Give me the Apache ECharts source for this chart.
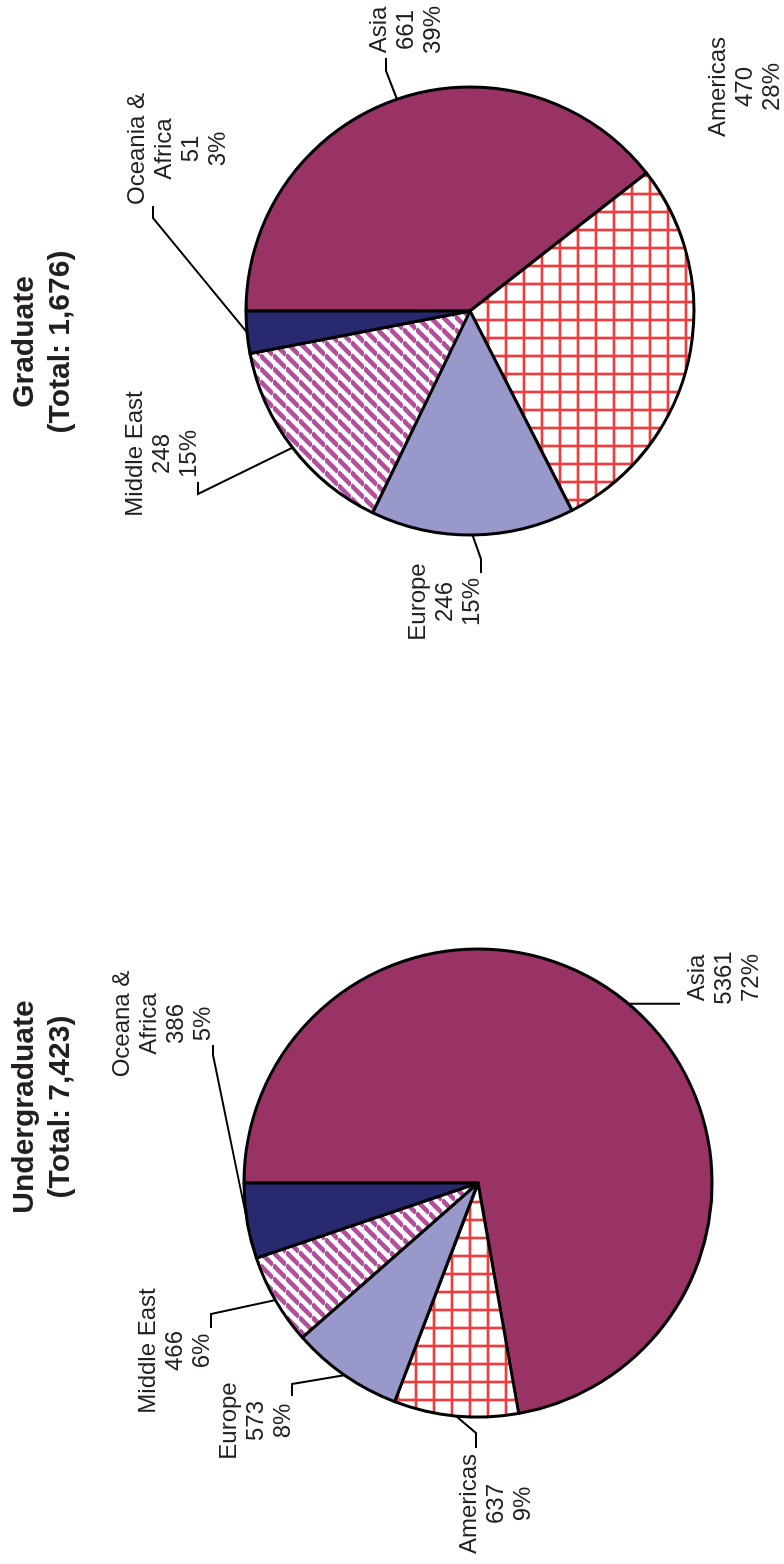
<!DOCTYPE html>
<html>
<head>
<meta charset="utf-8">
<script src="https://cdn.jsdelivr.net/npm/echarts@6/dist/echarts.min.js"></script>
<style>
  html, body { margin: 0; padding: 0; width: 784px; height: 1564px; overflow: hidden; background: #fff; }
  /* the chart is laid out landscape and turned a quarter to the left, like the scanned page */
  #chart { position: absolute; left: 0; top: 0; width: 1564px; height: 784px;
           transform-origin: 0 0; transform: translateY(1564px) rotate(-90deg); }
</style>
</head>
<body>
<div id="chart"></div>
<script>
  const underNames = ['Asia', 'Americas', 'Europe', 'Middle East', 'Oceana &\nAfrica']
  const underValues = [5361, 637, 573, 466, 386]
  const gradNames = ['Asia', 'Americas', 'Europe', 'Middle East', 'Oceania &\nAfrica']
  const gradValues = [661, 470, 246, 248, 51]
  const titles = ['Undergraduate\n(Total: 7,423)', 'Graduate\n(Total: 1,676)']

  const font = '"Liberation Sans", Arial, sans-serif'

  // hatch fills, drawn once into small tiles
  function gridTile () {
    const c = document.createElement('canvas')
    c.width = 18; c.height = 18
    const g = c.getContext('2d')
    g.fillStyle = '#fff'; g.fillRect(0, 0, 18, 18)
    g.fillStyle = 'rgba(240,70,70,0.35)'; g.fillRect(0, 0, 4, 18); g.fillRect(0, 0, 18, 4)
    g.fillStyle = '#ee3b3b'; g.fillRect(1, 0, 2, 18); g.fillRect(0, 1, 18, 2)
    return c
  }
  function stripeTile () {
    const s = 13
    const c = document.createElement('canvas')
    c.width = s; c.height = s
    const g = c.getContext('2d')
    g.fillStyle = '#fff'; g.fillRect(0, 0, s, s)
    g.strokeStyle = '#b24f9c'; g.lineWidth = 4.6
    for (let k = -1; k <= 1; k++) {
      g.beginPath(); g.moveTo(k * s, s); g.lineTo(k * s + s, 0); g.stroke()
    }
    return c
  }
  const fills = ['#993366', { image: gridTile(), repeat: 'repeat' }, '#9898cb',
                 { image: stripeTile(), repeat: 'repeat' }, '#28296f']

  // label placement (landscape coords): centre of text, where the leader meets it, elbow offset
  const underLayout = [
    { pos: [586, 724], end: [0, -44], drop: true },
    { pos: [60, 496], end: [56, -20], elbow: 15 },
    { pos: [143, 256], end: [25, 36], elbow: 12 },
    { pos: [213, 175], end: [23, 36], elbow: 14 },
    { pos: [540, 163], end: [-21, 50], elbow: -10 }
  ]
  const gradLayout = [
    { pos: [1534, 406], end: [-28, -20], elbow: -13 },
    { pos: [1477, 745] },
    { pos: [962, 445], end: [29, 36], elbow: 14 },
    { pos: [1110, 162], end: [-28, 36], elbow: -12 },
    { pos: [1415, 178], end: [-57, -25], elbow: -12 }
  ]

  function pieSeries (names, values, center, radius, layout) {
    return {
      type: 'pie',
      center: center,
      radius: radius,
      startAngle: 90,
      clockwise: true,
      percentPrecision: 0,
      avoidLabelOverlap: false,
      silent: true,
      data: names.map((n, i) => ({
        name: n,
        value: values[i],
        itemStyle: { color: fills[i] },
        labelLine: { show: !!layout[i].end }
      })),
      itemStyle: { borderColor: '#000', borderWidth: 3 },
      label: {
        show: true,
        position: 'outside',
        formatter: '{b}\n{c}\n{d}%',
        fontFamily: font,
        fontSize: 24,
        lineHeight: 27,
        color: '#231f20',
        align: 'center'
      },
      labelLine: { show: true, smooth: false, lineStyle: { color: '#000', width: 2 } },
      labelLayout: function (p) {
        const L = layout[p.dataIndex]
        const out = { x: L.pos[0], y: L.pos[1], align: 'center', verticalAlign: 'middle' }
        const edge = p.labelLinePoints && p.labelLinePoints[0]
        if (edge && L.end) {
          const end = [L.pos[0] + L.end[0], L.pos[1] + L.end[1]]
          out.labelLinePoints = L.drop
            ? [edge, [edge[0], end[1]]]
            : [edge, [end[0] + L.elbow, end[1]], end]
        }
        return out
      }
    }
  }

  const chart = echarts.init(document.getElementById('chart'))
  chart.setOption({
    animation: false,
    backgroundColor: '#fff',
    title: titles.map((t, i) => ({
      text: t,
      left: [452, 1217][i],
      top: 2,
      textAlign: 'center',
      textStyle: { fontFamily: font, fontSize: 30, fontWeight: 'bold', lineHeight: 36, color: '#231f20' }
    })),
    series: [
      pieSeries(underNames, underValues, [381, 478], 234, underLayout),
      pieSeries(gradNames, gradValues, [1253, 470], 224, gradLayout)
    ]
  })
</script>
</body>
</html>
